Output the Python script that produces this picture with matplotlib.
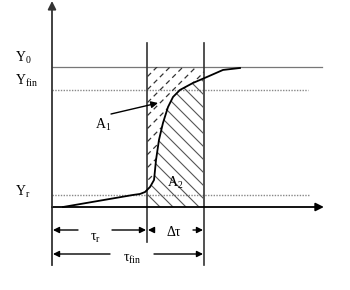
import numpy as np
import matplotlib
matplotlib.use("Agg")
import matplotlib.pyplot as plt
from matplotlib.patches import Polygon

plt.rcParams['mathtext.fontset'] = 'custom'
plt.rcParams['mathtext.rm'] = 'Liberation Serif'
plt.rcParams['mathtext.it'] = 'Liberation Serif'
plt.rcParams['font.family'] = ['Liberation Serif', 'DejaVu Serif']

# ---- data (normalised time / response) ----
tau_r = 1.0
tau_fin = 1.6
Y0 = 1.0
Yfin = 0.836
Yr = 0.086
curve_t = [0.116, 0.853, 0.926, 0.979, 1.032, 1.074, 1.095, 1.126, 1.168,
           1.221, 1.274, 1.347, 1.484, 1.632, 1.800, 1.979]
curve_y = [0.000, 0.086, 0.093, 0.107, 0.143, 0.193, 0.336, 0.479, 0.600,
           0.714, 0.786, 0.836, 0.886, 0.929, 0.979, 0.993]
labels_y = [r'$\mathrm{Y_0}$', r'$\mathrm{Y_{fin}}$', r'$\mathrm{Y_r}$']
label_tau_r = r'$\mathrm{τ_r}$'
label_dtau = 'Δτ'
label_tau_fin = r'$\mathrm{τ_{fin}}$'
label_A1 = r'$\mathrm{A_1}$'
label_A2 = r'$\mathrm{A_2}$'

fig = plt.figure(figsize=(3.5, 2.9), dpi=100)
ax = fig.add_axes([0, 0, 1, 1])
# pixel-like layout: origin at (52,207), 95 px per time unit, 140 px per Y unit
ax.set_xlim(-52 / 95, (350 - 52) / 95)
ax.set_ylim((207 - 290) / 140, 207 / 140)
ax.axis('off')

dark = '#333333'
x_end = 2.842

# reference levels
ax.plot([0, x_end], [Y0, Y0], color='#777777', lw=0.9)
ax.plot([0, 2.695], [Yfin, Yfin], color='#888888', lw=1.0, ls=(0, (1, 1)))
ax.plot([0, 2.716], [Yr, Yr], color='#888888', lw=1.0, ls=(0, (1, 1)))

# axes with arrows
ax.annotate('', xy=(x_end + 0.02, 0), xytext=(0, 0),
            arrowprops=dict(arrowstyle='-|>', color='black', lw=1.3,
                            mutation_scale=12, shrinkA=0, shrinkB=0))
ax.plot([0, 0], [-0.414, 0], color=dark, lw=1.3)
ax.annotate('', xy=(0, 206 / 140), xytext=(0, 0),
            arrowprops=dict(arrowstyle='-|>', color=dark, lw=1.3,
                            mutation_scale=12, shrinkA=0, shrinkB=0))

# vertical time markers
ax.plot([tau_r, tau_r], [-0.25, 1.171], color=dark, lw=1.2)
ax.plot([tau_fin, tau_fin], [-0.414, 1.171], color=dark, lw=1.2)

# hatched regions
ts = np.linspace(tau_r, tau_fin, 200)
ys = np.interp(ts, curve_t, curve_y)
polyA1 = Polygon(np.column_stack([np.r_[ts, ts[::-1]], np.r_[ys, np.full_like(ts, Y0)]]),
                 closed=True, fill=False, lw=0)
polyA2 = Polygon(np.column_stack([np.r_[ts, ts[::-1]], np.r_[np.zeros_like(ts), ys[::-1]]]),
                 closed=True, fill=False, lw=0)
ax.add_patch(polyA1)
ax.add_patch(polyA2)

slope = 95 / 140
step = 13 / 95
for k in range(-25, 30):
    c = tau_r + k * step
    tt = np.array([c - 3, c + 3])
    l1, = ax.plot(tt, (tt - c) * slope, color='#333333', lw=0.9, ls=(0, (4, 3)))
    l1.set_clip_path(polyA1)
    l2, = ax.plot(tt, -(tt - c) * slope, color='#555555', lw=0.8)
    l2.set_clip_path(polyA2)

# response curve
ax.plot(curve_t, curve_y, color='black', lw=1.3)

# labels
fs = 10
ax.text(-37 / 95, (207 - 58) / 140, labels_y[0], fontsize=fs, ha='left', va='center')
ax.text(-37 / 95, (207 - 81) / 140, labels_y[1], fontsize=fs, ha='left', va='center')
ax.text(-37 / 95, (207 - 192) / 140, labels_y[2], fontsize=fs, ha='left', va='center')
ax.text((103 - 52) / 95, (207 - 125) / 140, label_A1, fontsize=fs, ha='center', va='center')
ax.text((175 - 52) / 95, (207 - 183) / 140, label_A2, fontsize=fs, ha='center', va='center')
ax.annotate('', xy=((158 - 52) / 95, (207 - 103) / 140),
            xytext=((111 - 52) / 95, (207 - 114) / 140),
            arrowprops=dict(arrowstyle='-|>', color='black', lw=1.0,
                            mutation_scale=10, shrinkA=0, shrinkB=0))

# interval dimension arrows
def dim(x0, x1, y, label, gap0, gap1, ty):
    ap = dict(arrowstyle='-|>', color='black', lw=1.0, mutation_scale=9,
              shrinkA=0, shrinkB=0)
    ax.annotate('', xy=(x0, y), xytext=(gap0, y), arrowprops=ap)
    ax.annotate('', xy=(x1, y), xytext=(gap1, y), arrowprops=ap)
    ax.text((gap0 + gap1) / 2, ty, label, fontsize=fs, ha='center', va='center')

yd1 = (207 - 230) / 140
yd2 = (207 - 254) / 140
dim(0.01, tau_r - 0.01, yd1, label_tau_r, (78 - 52) / 95, (112 - 52) / 95, (207 - 238) / 140)
dim(tau_r + 0.01, tau_fin - 0.01, yd1, label_dtau, (154 - 52) / 95, (193 - 52) / 95, (207 - 232) / 140)
dim(0.01, tau_fin - 0.01, yd2, label_tau_fin, (110 - 52) / 95, (154 - 52) / 95, (207 - 259) / 140)

fig.savefig('out.png', dpi=100)
